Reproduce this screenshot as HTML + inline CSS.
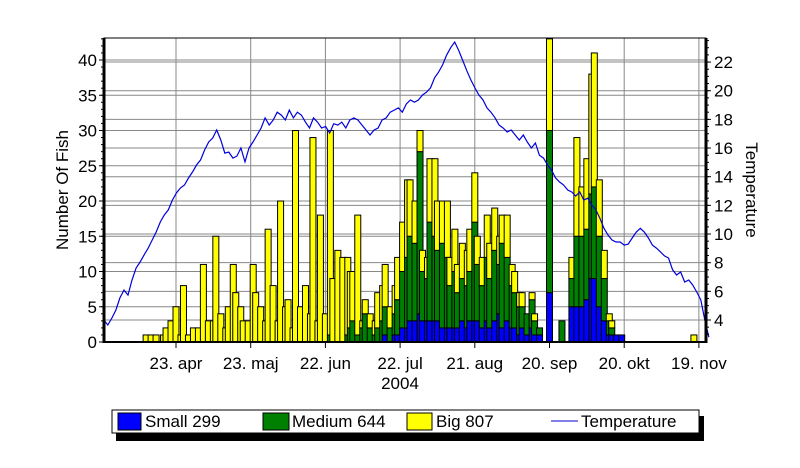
<!DOCTYPE html>
<html><head><meta charset="utf-8"><style>
html,body{margin:0;padding:0;background:#fff;width:800px;height:468px;overflow:hidden}
svg text{font-family:"Liberation Sans",Arial,sans-serif;fill:#000}
</style></head><body>
<svg id="chart" width="800" height="468" viewBox="0 0 800 468" xmlns="http://www.w3.org/2000/svg">
<g id="grid"></g>
<g id="bars"></g>
<g id="templine"></g>
<g id="axes"></g>
<text x="0" y="0" font-size="17" text-anchor="middle" transform="translate(68,190) rotate(-90)">Number Of Fish</text>
<text x="0" y="0" font-size="17" text-anchor="middle" transform="translate(746,190) rotate(90)">Temperature</text>
<text x="400" y="389" font-size="17" text-anchor="middle">2004</text>
<g>
<rect x="116" y="416" width="588" height="25" fill="#000"/>
<rect x="112" y="410" width="587" height="23" fill="#fff" stroke="#000" stroke-width="1"/>
<g><rect x="118" y="413" width="23" height="17" fill="#0000ff" stroke="#000"/><text x="145" y="427" font-size="17">Small  299</text></g>
<g><rect x="263" y="413" width="26" height="17" fill="#008000" stroke="#000"/><text x="292" y="427" font-size="17">Medium  644</text></g>
<g><rect x="407" y="413" width="25" height="17" fill="#ffff00" stroke="#000"/><text x="436" y="427" font-size="17">Big  807</text></g>
<g><line x1="551" y1="421" x2="578" y2="421" stroke="#0000cc" stroke-width="1"/><text x="581" y="427" font-size="17">Temperature</text></g>
</g>
</svg>
<script>
// ---- data ----
const xTickLabels=["23. apr","23. maj","22. jun","22. jul","21. aug","20. sep","20. okt","19. nov"];
const xTickDays=[29,59,89,119,149,179,209,239]; // days since 25 Mar 2004
const yTicks=[0,5,10,15,20,25,30,35,40];
const y2Ticks=[4,6,8,10,12,14,16,18,20,22];
const barDays=[17,19,21,24,25,27,29,31,32,34,36,38,40,42,44,45,47,49,50,52,53,55,56,58,60,61,63,65,66,68,70,71,73,74,76,77,79,81,83,84,86,87,89,91,92,94,96,98,99,100,102,104,105,107,109,110,112,113,
115,117,118,120,122,123,125,127,128,130,131,133,134,136,138,139,141,142,144,146,147,149,150,152,154,155,157,159,160,162,164,165,167,168,170,172,173,175,179,184,188,190,192,194,196,197,199,201,203,204,206,208,237];
const smallVals=[0,0,0,0,0,0,0,0,0,0,0,0,0,0,0,0,0,0,0,0,0,0,0,0,0,0,0,0,0,0,0,0,0,0,0,0,0,0,0,0,0,0,0,0,0,0,0,0,0,0,0,0,0,0,0,0,0,1,
0,1,1,2,2,3,3,4,3,3,3,3,3,2,2,2,2,2,3,2,3,3,3,2,3,2,3,4,2,3,2,2,1,2,1,2,1,1,7,0,5,5,5,6,9,9,5,3,1,1,1,1,0];
const mediumVals=[0,0,0,0,0,0,0,0,0,0,0,0,0,0,0,0,0,0,0,0,0,0,0,0,0,0,0,0,0,0,0,0,0,0,0,0,0,0,0,0,0,0,0,1,0,0,0,1,2,3,1,2,4,2,1,2,3,4,
2,3,5,8,10,12,11,23,7,6,14,12,10,12,10,6,8,5,6,6,7,14,8,6,9,7,10,7,12,9,6,5,4,3,3,4,2,1,23,3,4,10,10,10,12,13,10,6,2,1,0,0,0];
const bigVals=[1,1,1,1,2,3,5,1,8,1,2,2,11,3,3,15,4,2,5,11,7,5,3,3,11,7,5,3,16,8,3,20,5,6,2,30,5,8,4,29,3,18,4,29,9,13,12,11,8,7,17,1,2,2,2,5,5,6,
3,4,6,7,11,8,6,3,3,3,9,11,7,6,8,4,6,4,5,5,6,7,4,4,6,5,6,4,4,6,3,3,2,2,0,1,1,0,13,0,3,14,7,10,17,19,8,4,1,1,0,0,1];
const tempStep=1.62; // logger sample interval in days, starting 25 Mar
const temps=[4.0,3.65,4.14,4.7,5.54,6.09,5.74,6.79,7.63,8.05,8.54,9.02,9.58,10.14,10.84,11.33,11.68,12.37,12.86,13.21,13.42,13.91,14.33,14.82,15.17,15.86,16.42,16.7,17.26,16.56,15.65,15.72,15.3,15.44,16.0,15.03,16.0,16.42,16.91,17.4,18.1,17.6,17.96,18.5,18.3,17.96,18.65,18.1,18.5,18.3,17.8,17.4,18.1,17.8,17.4,17.5,17.05,17.7,17.6,17.8,17.4,17.96,18.1,17.96,17.6,17.26,16.91,17.26,17.4,17.96,18.1,18.5,18.65,18.8,18.5,19.07,19.35,19.2,19.35,19.7,19.9,20.2,20.9,21.3,21.8,22.5,23.0,23.4,22.8,22.1,21.4,20.75,20.2,19.7,19.35,18.8,18.5,18.1,17.6,17.4,17.12,17.26,16.91,16.56,16.91,16.42,16.0,16.35,15.5,15.3,14.82,14.47,13.91,13.63,13.42,13.07,12.93,12.65,12.93,12.37,12.5,12.0,11.68,11.1,10.4,9.93,9.58,9.44,9.44,9.23,9.3,9.72,10.14,10.4,10.14,9.72,9.23,9.02,8.75,8.47,8.33,7.5,7.14,7.35,6.65,6.79,6.44,5.95,5.4,4.0,2.8];
// ---- axes ----
const L=104,R=706,T=38,B=342;
const dayPx=2.49;
const X=d=>176+(d-29)*dayPx;
const Y=v=>B-v*7.05;
const Y2=t=>320-(t-4)*14.33;
const NS="http://www.w3.org/2000/svg";
function mk(tag,attrs,parent){const e=document.createElementNS(NS,tag);for(const k in attrs)e.setAttribute(k,attrs[k]);parent.appendChild(e);return e;}
const grid=document.getElementById('grid'),axes=document.getElementById('axes'),bars=document.getElementById('bars'),tl=document.getElementById('templine');
mk('rect',{x:L,y:T,width:R-L,height:B-T,fill:'#fff',stroke:'#000','stroke-width':1},grid);
yTicks.forEach(v=>{const y=Y(v);
 const g=mk('line',{x1:L,x2:R,y1:y,y2:y,stroke:'#888','stroke-width':1},grid);
 
 
 mk('line',{x1:L-5,x2:L,y1:y,y2:y,stroke:'#000'},axes);
 const t=mk('text',{x:L-7,y:y+6,'font-size':17,'text-anchor':'end'},axes);t.textContent=v;
 
 
});
for(let v=0;v<=43;v++){mk('line',{x1:L-3,x2:L,y1:Y(v),y2:Y(v),stroke:'#000'},axes);}
y2Ticks.forEach(v=>{const y=Y2(v);
 const g=mk('line',{x1:L,x2:R,y1:y,y2:y,stroke:'#888','stroke-width':1},grid);
 
 
 mk('line',{x1:R,x2:R+5,y1:y,y2:y,stroke:'#000'},axes);
 const t=mk('text',{x:R+8,y:y+6,'font-size':17},axes);t.textContent=v;
 
 
});
for(let v=3;v<=23.5;v+=0.5){mk('line',{x1:R,x2:R+3,y1:Y2(v),y2:Y2(v),stroke:'#000'},axes);}
xTickDays.forEach((d,i)=>{const x=X(d);
 const g=mk('line',{x1:x,x2:x,y1:T,y2:B,stroke:'#888','stroke-width':1},grid);
 
 
 mk('line',{x1:x,x2:x,y1:B,y2:B+6,stroke:'#000'},axes);
 const t=mk('text',{x:x,y:369,'font-size':17,'text-anchor':'middle'},axes);t.textContent=xTickLabels[i];
 
 
});
mk('line',{x1:L,x2:L,y1:T,y2:B+1,stroke:'#000','stroke-width':3},axes);
mk('line',{x1:R,x2:R,y1:T,y2:B+1,stroke:'#000','stroke-width':3},axes);
mk('line',{x1:L,x2:R,y1:B,y2:B,stroke:'#000','stroke-width':2},axes);
mk('line',{x1:L,x2:R,y1:T,y2:T,stroke:'#000','stroke-width':1},axes);
// ---- bars ----
const bw=6;
barDays.forEach((d,i)=>{
 const x=X(d)-bw/2;
 const s=smallVals[i],m=mediumVals[i],b=bigVals[i];
 const segs=[[0,s,'#0000ff','bar-small'],[s,s+m,'#008000','bar-medium'],[s+m,s+m+b,'#ffff00','bar-big']];
 segs.forEach(sg=>{ if(sg[1]>sg[0]){
  const r=mk('rect',{x:x,y:Y(sg[1]),width:bw,height:Y(sg[0])-Y(sg[1]),fill:sg[2],stroke:'#000','stroke-width':1},bars);
  
  
 }});
});
// ---- temperature line ----
let pts=temps.map((t,i)=>X(i*tempStep).toFixed(1)+','+Y2(t).toFixed(1)).join(' ');
const pl=mk('polyline',{points:pts,fill:'none',stroke:'#0000dd','stroke-width':1.2},tl);


</script>
</body></html>
